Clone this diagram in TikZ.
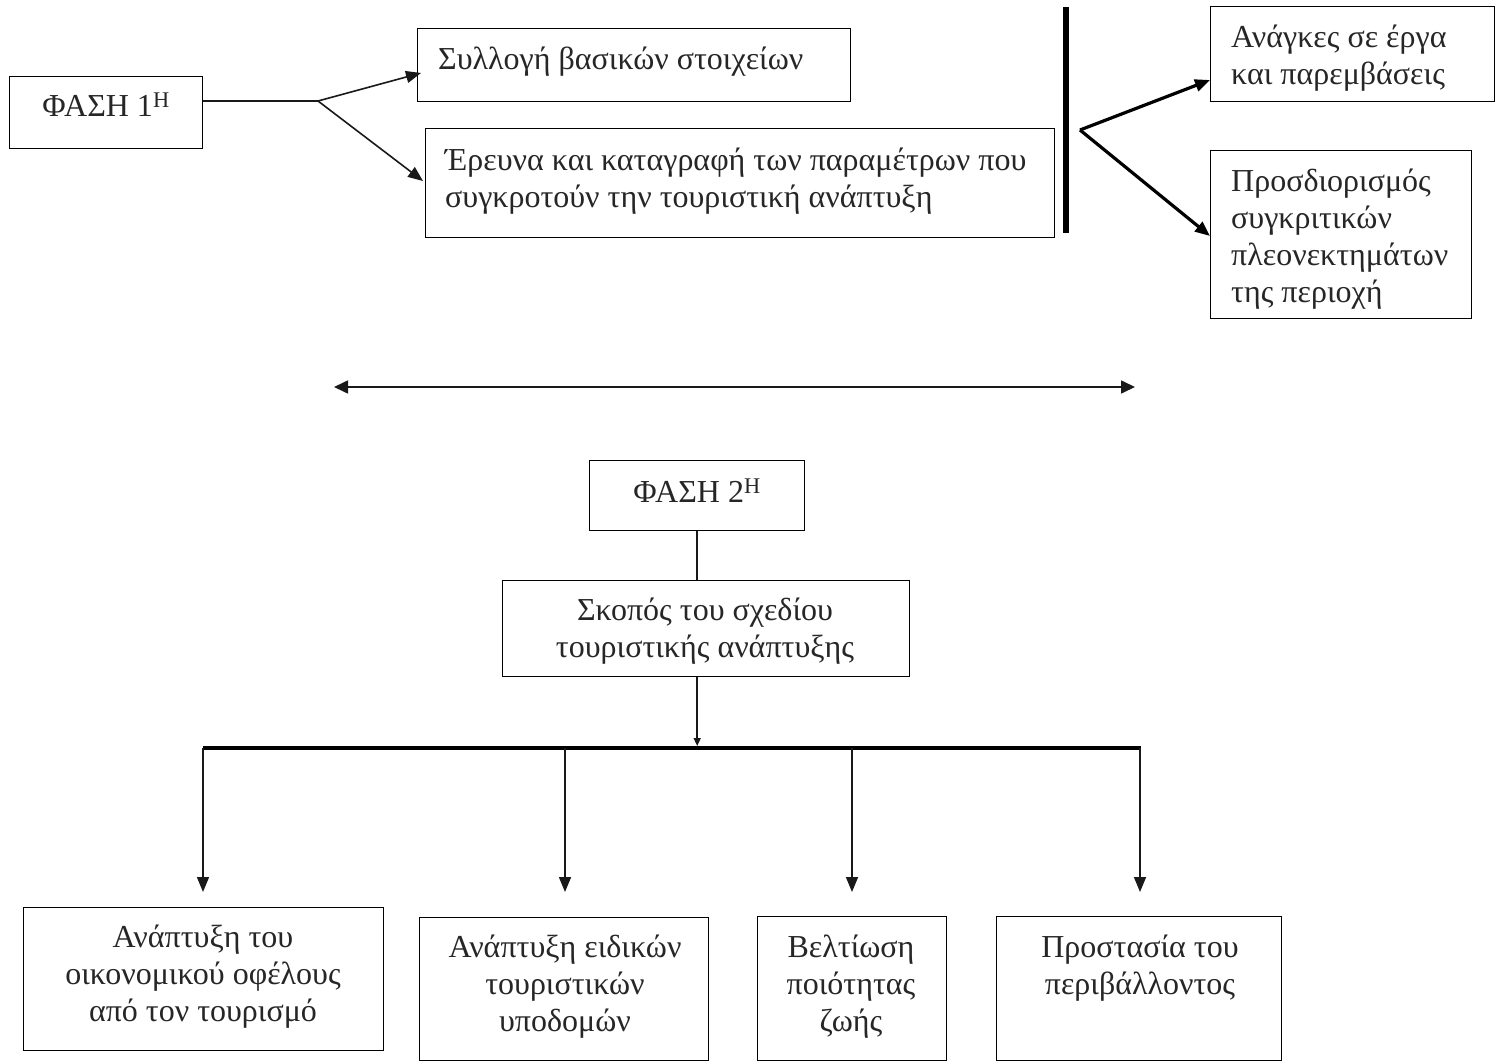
\documentclass[tikz,border=0pt]{standalone}
\usepackage{fontspec}
\setmainfont{Liberation Serif}
\usetikzlibrary{arrows.meta}
\begin{document}
\begin{tikzpicture}[x=1pt,y=-1pt,
  box/.style={draw=black, line width=1.4pt, inner sep=0pt, anchor=north west},
  txt/.style={inner sep=0pt, font=\fontsize{32}{37}\selectfont, text=black!85},
  ln/.style={line width=1.6pt, draw=black!90},
  tip/.style={-{Triangle[length=15pt,width=12pt]}},
  smalltip/.style={-{Triangle[length=8pt,width=7pt]}},
]
\path[use as bounding box] (0,0) rectangle (1504,1064);
% phase 1
\node[box, minimum width=193pt, minimum height=72pt] (p1) at (9,76) {};
\node[txt] (p1t) at (106,105) {ΦΑΣΗ 1\textsuperscript{Η}};
\node[box, minimum width=433pt, minimum height=73pt] (s1) at (417,28) {};
\node[txt, anchor=west] (s1t) at (438,62) {Συλλογή βασικών στοιχείων};
\node[box, minimum width=629pt, minimum height=109pt] (s2) at (425,128) {};
\node[txt, anchor=west, align=left] (s2t) at (445,181) {Έρευνα και καταγραφή των παραμέτρων που\\συγκροτούν την τουριστική ανάπτυξη};
\coordinate (split) at (318,101);
\coordinate (e1a) at (421,73);
\coordinate (e1b) at (423,181);
\draw[ln] (p1.east |- split) -- (split);
\draw[ln, tip] (split) -- (e1a);
\draw[ln, tip] (split) -- (e1b);
% bar and right boxes
\node[fill=black, inner sep=0pt, minimum width=6pt, minimum height=226pt, anchor=north west] (bar) at (1063,7) {};
\node[box, minimum width=284pt, minimum height=95pt] (r1) at (1210,6) {};
\node[txt, anchor=west, align=left] (r1t) at (1231,58) {Ανάγκες σε έργα\\και παρεμβάσεις};
\node[box, minimum width=261pt, minimum height=168pt] (r2) at (1210,150) {};
\node[txt, anchor=west, align=left] (r2t) at (1231,239) {Προσδιορισμός\\συγκριτικών\\πλεονεκτημάτων\\της περιοχή};
\coordinate (rs) at (1080,130);
\draw[line width=3.2pt, -{Triangle[length=15pt,width=12pt]}] (rs) -- (r1.west |- 0,80);
\draw[line width=3.2pt, -{Triangle[length=15pt,width=12pt]}] (rs) -- (r2.west |- 0,236);
% double arrow
\coordinate (la) at (334,387);
\coordinate (ra) at (1135,387);
\draw[ln, {Triangle[length=14pt,width=13pt]}-{Triangle[length=14pt,width=13pt]}] (la) -- (ra);
% phase 2
\node[box, minimum width=215pt, minimum height=70pt] (p2) at (589,460) {};
\node[txt] (p2t) at (697,491) {ΦΑΣΗ 2\textsuperscript{Η}};
\node[box, minimum width=407pt, minimum height=96pt] (g) at (502,580) {};
\node[txt, align=center] (gt) at (705,631) {Σκοπός του σχεδίου\\τουριστικής ανάπτυξης};
\draw[ln] (p2.south) -- (p2.south |- g.north);
\coordinate (hbL) at (203,748);
\coordinate (hbR) at (1141,748);
\draw[ln, smalltip] (p2.south |- g.south) -- (p2.south |- 0,746);
\draw[line width=4.5pt] (hbL) -- (hbR);
% bottom boxes
\node[box, minimum width=360pt, minimum height=143pt] (b1) at (23,907) {};
\node[txt, align=center] (b1t) at (203,977) {Ανάπτυξη του\\οικονομικού οφέλους\\από τον τουρισμό};
\node[box, minimum width=289pt, minimum height=143pt] (b2) at (419,917) {};
\node[txt, align=center] (b2t) at (565,987) {Ανάπτυξη ειδικών\\τουριστικών\\υποδομών};
\node[box, minimum width=189pt, minimum height=144pt] (b3) at (757,916) {};
\node[txt, align=center] (b3t) at (851,987) {Βελτίωση\\ποιότητας\\ζωής};
\node[box, minimum width=285pt, minimum height=144pt] (b4) at (996,916) {};
\node[txt, align=center] (b4t) at (1140,968) {Προστασία του\\περιβάλλοντος};
\coordinate (d1) at (203,892);
\coordinate (d2) at (565,892);
\coordinate (d3) at (852,892);
\coordinate (d4) at (1140,892);
\draw[ln, tip] (203,748) -- (d1);
\draw[ln, tip] (565,748) -- (d2);
\draw[ln, tip] (852,748) -- (d3);
\draw[ln, tip] (1140,748) -- (d4);
\end{tikzpicture}
\end{document}
